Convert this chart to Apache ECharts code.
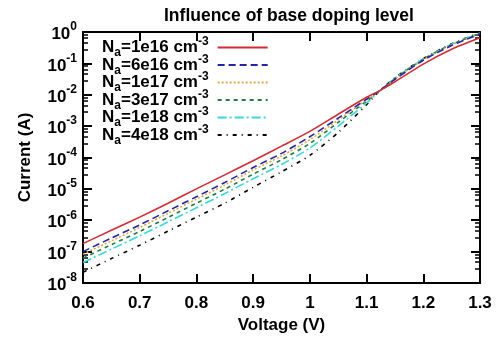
<!DOCTYPE html>
<html>
<head>
<meta charset="utf-8">
<script src="https://cdn.jsdelivr.net/npm/echarts@6/dist/echarts.min.js"></script>
<style>
  html, body { margin: 0; padding: 0; background: #fff; }
  #chart { width: 502px; height: 341px; }
</style>
</head>
<body>
<div id="chart"></div>
<script>
/* 电压点 (V) */
var voltage = [0.6, 0.65, 0.7, 0.75, 0.8, 0.85, 0.9, 0.95, 1.0, 1.05, 1.1, 1.12, 1.15, 1.2, 1.25, 1.3];

/* 电流 (A)，按基区掺杂浓度 */
var na1e16 = [1.8e-7, 4.8e-7, 1.26e-6, 3.5e-6, 1.0e-5, 2.8e-5, 7.9e-5, 2.3e-4, 6.8e-4, 2.4e-3, 8.3e-3, 1.26e-2, 2.6e-2, 9.5e-2, 2.8e-1, 6.5e-1];
var na6e16 = [1.0e-7, 2.7e-7, 7.1e-7, 2.0e-6, 5.6e-6, 1.6e-5, 4.8e-5, 1.35e-4, 4.6e-4, 1.8e-3, 7.2e-3, 1.23e-2, 3.1e-2, 1.26e-1, 3.7e-1, 8.7e-1];
var na1e17 = [8.3e-8, 2.2e-7, 5.9e-7, 1.66e-6, 4.7e-6, 1.32e-5, 4.0e-5, 1.12e-4, 3.7e-4, 1.58e-3, 6.8e-3, 1.2e-2, 3.2e-2, 1.32e-1, 3.9e-1, 8.9e-1];
var na3e17 = [6.2e-8, 1.66e-7, 4.4e-7, 1.23e-6, 3.5e-6, 9.8e-6, 2.95e-5, 8.5e-5, 2.8e-4, 1.32e-3, 6.3e-3, 1.2e-2, 3.3e-2, 1.35e-1, 4.0e-1, 9.1e-1];
var na1e18 = [4.5e-8, 1.2e-7, 3.2e-7, 8.9e-7, 2.5e-6, 7.1e-6, 2.1e-5, 6.0e-5, 2.0e-4, 1.0e-3, 5.5e-3, 1.17e-2, 3.4e-2, 1.38e-1, 4.1e-1, 9.3e-1];
var na4e18 = [2.2e-8, 6.0e-8, 1.6e-7, 4.5e-7, 1.26e-6, 3.5e-6, 1.12e-5, 3.5e-5, 1.17e-4, 6.3e-4, 4.8e-3, 1.17e-2, 3.5e-2, 1.41e-1, 4.2e-1, 9.5e-1];

var dopings = ['1e16', '6e16', '1e17', '3e17', '1e18', '4e18'];

var FONT = '"Liberation Sans", Arial, Helvetica, sans-serif';

function pairs(ys) {
    var out = [];
    for (var i = 0; i < voltage.length; i++) out.push([voltage[i], ys[i]]);
    return out;
}

var styles = [
    { color: '#d42a34', type: 'solid' },
    { color: '#2424a8', type: [7, 4] },
    { color: '#e0a848', type: [2, 2] },
    { color: '#1f7a44', type: [4, 4] },
    { color: '#3ad8d8', type: [9, 3, 2, 3] },
    { color: '#000000', type: [4, 5, 1, 5] }
];
var allData = [na1e16, na6e16, na1e17, na3e17, na1e18, na4e18];

var series = [];
for (var k = 0; k < allData.length; k++) {
    series.push({
        name: dopings[k],
        type: 'line',
        data: pairs(allData[k]),
        smooth: 0.25,
        symbol: 'none',
        lineStyle: { color: styles[k].color, type: styles[k].type, width: 1.6 },
        itemStyle: { color: styles[k].color },
        z: 10 - k
    });
}

var supRich = {
    b: { fontFamily: FONT, fontWeight: 'bold', fontSize: 17, color: '#000', verticalAlign: 'bottom', lineHeight: 22 },
    s: { fontFamily: FONT, fontWeight: 'bold', fontSize: 12, color: '#000', verticalAlign: 'top', lineHeight: 22 }
};

var chart = echarts.init(document.getElementById('chart'));
var option = {
    animation: false,
    backgroundColor: '#fff',
    title: {
        text: 'Influence of base doping level',
        left: 159,
        top: 2,
        textStyle: { fontFamily: FONT, fontWeight: 'bold', fontSize: 17.5, color: '#000' }
    },
    grid: { left: 83, right: 22, top: 32, bottom: 58 },
    legend: {
        orient: 'vertical',
        left: 97,
        top: 31,
        align: 'right',
        itemWidth: 50,
        itemHeight: 12,
        itemGap: -5.5,
        itemStyle: { opacity: 0 },
        data: dopings,
        formatter: function (name) {
            return '{n|N}{sub|a}{n|=' + name + ' cm}{sup|-3}{gap|}';
        },
        textStyle: {
            rich: {
                n: { fontFamily: FONT, fontWeight: 'bold', fontSize: 17, color: '#000', verticalAlign: 'middle', lineHeight: 23 },
                sub: { fontFamily: FONT, fontWeight: 'bold', fontSize: 12, color: '#000', verticalAlign: 'bottom', lineHeight: 23 },
                sup: { fontFamily: FONT, fontWeight: 'bold', fontSize: 12, color: '#000', verticalAlign: 'top', lineHeight: 23 },
                gap: { width: 4 }
            }
        }
    },
    xAxis: [{
        type: 'value',
        min: 0.6,
        max: 1.3,
        interval: 0.1,
        name: 'Voltage (V)',
        nameLocation: 'middle',
        nameGap: 34,
        nameTextStyle: { fontFamily: FONT, fontWeight: 'bold', fontSize: 17, color: '#000' },
        axisLine: { lineStyle: { color: '#000', width: 2 } },
        axisTick: { inside: true, length: 9, lineStyle: { color: '#000', width: 2 } },
        axisLabel: { fontFamily: FONT, fontWeight: 'bold', fontSize: 17, color: '#000', margin: 12,
            formatter: function (v) { return String(Math.round(v * 10) / 10); } },
        splitLine: { show: false }
    }, {
        type: 'value',
        position: 'top',
        min: 0.6,
        max: 1.3,
        interval: 0.1,
        axisLine: { lineStyle: { color: '#000', width: 2 } },
        axisTick: { inside: true, length: 9, lineStyle: { color: '#000', width: 2 } },
        axisLabel: { show: false },
        splitLine: { show: false }
    }],
    yAxis: [{
        type: 'log',
        logBase: 10,
        min: 1e-8,
        max: 1,
        name: 'Current (A)',
        nameLocation: 'middle',
        nameGap: 49,
        nameTextStyle: { fontFamily: FONT, fontWeight: 'bold', fontSize: 17, color: '#000' },
        axisLine: { show: true, lineStyle: { color: '#000', width: 2 } },
        axisTick: { show: true, inside: true, length: 9, lineStyle: { color: '#000', width: 2 } },
        minorTick: { show: true, splitNumber: 5, length: 5, lineStyle: { color: '#000', width: 1.5 } },
        axisLabel: {
            margin: 6,
            formatter: function (v) {
                var e = Math.round(Math.log10(v));
                return '{b|10}{s|' + e + '}';
            },
            rich: supRich
        },
        splitLine: { show: false }
    }, {
        type: 'log',
        logBase: 10,
        position: 'right',
        min: 1e-8,
        max: 1,
        axisLine: { show: true, lineStyle: { color: '#000', width: 2 } },
        axisTick: { show: true, inside: true, length: 9, lineStyle: { color: '#000', width: 2 } },
        minorTick: { show: true, splitNumber: 5, length: 5, lineStyle: { color: '#000', width: 1.5 } },
        axisLabel: { show: false },
        splitLine: { show: false }
    }],
    series: series
};
chart.setOption(option);
</script>
</body>
</html>
